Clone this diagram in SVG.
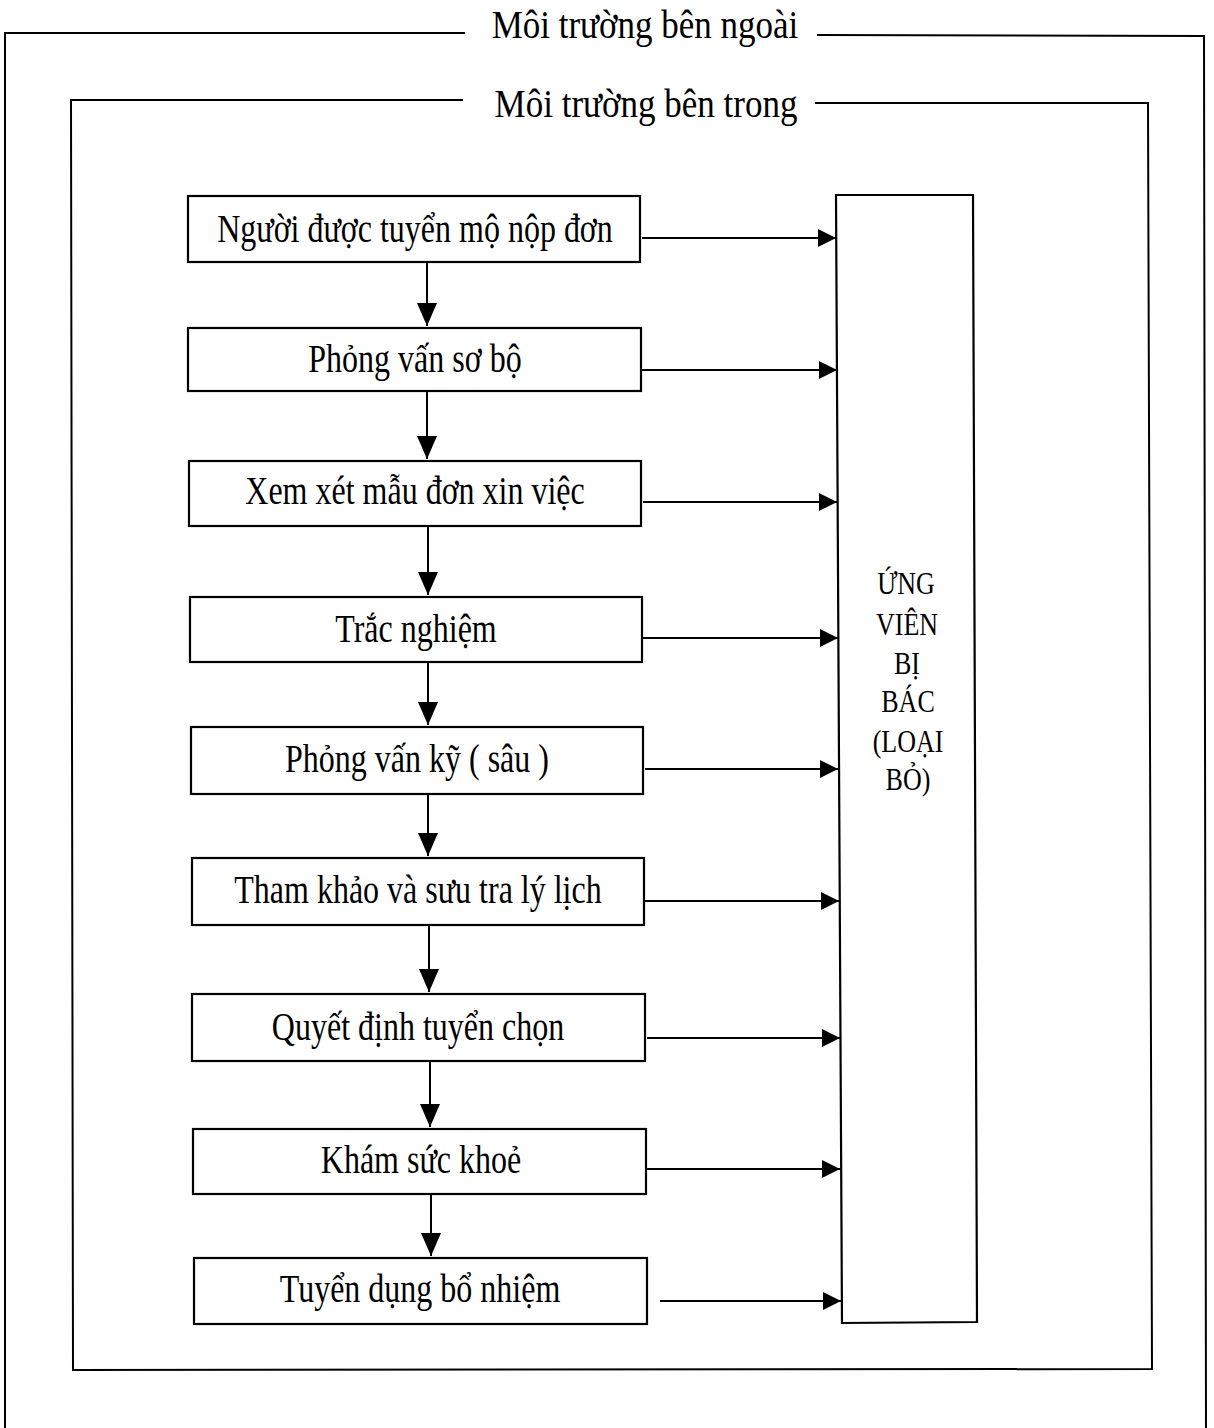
<svg xmlns="http://www.w3.org/2000/svg" width="1214" height="1428" viewBox="0 0 1214 1428">
<style>
.frame{fill:none;stroke:#000;stroke-width:2}
.box{fill:#fff;stroke:#000;stroke-width:2.2}
.lbl{font-family:"Liberation Serif","Times New Roman",serif;font-size:32px;fill:#000;text-anchor:middle}
.ttl{font-family:"Liberation Serif","Times New Roman",serif;font-size:35px;fill:#000;text-anchor:middle}
.rej{font-family:"Liberation Serif","Times New Roman",serif;font-size:26px;fill:#000;text-anchor:middle}
.con{fill:none;stroke:#000;stroke-width:2}
</style>
<defs>
<marker id="ah" viewBox="0 0 18 18" markerWidth="18" markerHeight="18" refX="18" refY="9" orient="auto" markerUnits="userSpaceOnUse">
<path d="M0,0 L18,9 L0,18 Z" fill="#000"/>
</marker>
<marker id="av" viewBox="0 0 23 20" markerWidth="23" markerHeight="20" refX="23" refY="10" orient="auto" markerUnits="userSpaceOnUse">
<path d="M0,0 L23,10 L0,20 Z" fill="#000"/>
</marker>
</defs>
<rect width="1214" height="1428" fill="#fff"/>

<g id="outer-frame">
<path class="frame" d="M465,33 L5,33 L5,1428"/>
<path class="frame" d="M817,35 L1204,36 L1206,1428"/>
<text class="ttl" transform="translate(645,38) scale(1,1.15)">Môi trường bên ngoài</text>
</g>

<g id="inner-frame">
<path class="frame" d="M463,100 L71,100 L73,1370 L1152,1369 L1148,103 L815,103"/>
<text class="ttl" transform="translate(646,117) scale(1,1.15)">Môi trường bên trong</text>
</g>

<g id="connectors">
<line class="con" x1="427" y1="262" x2="427" y2="326" marker-end="url(#av)"/>
<line class="con" x1="427" y1="391" x2="427" y2="459" marker-end="url(#av)"/>
<line class="con" x1="428" y1="526" x2="428" y2="595" marker-end="url(#av)"/>
<line class="con" x1="428" y1="662" x2="428" y2="725" marker-end="url(#av)"/>
<line class="con" x1="428" y1="794" x2="428" y2="856" marker-end="url(#av)"/>
<line class="con" x1="429" y1="925" x2="429" y2="992" marker-end="url(#av)"/>
<line class="con" x1="430" y1="1061" x2="430" y2="1127" marker-end="url(#av)"/>
<line class="con" x1="431" y1="1194" x2="431" y2="1256" marker-end="url(#av)"/>

<line class="con" x1="642" y1="238" x2="836" y2="238" marker-end="url(#ah)"/>
<line class="con" x1="642" y1="370" x2="837" y2="370" marker-end="url(#ah)"/>
<line class="con" x1="643" y1="502" x2="837" y2="502" marker-end="url(#ah)"/>
<line class="con" x1="643" y1="638" x2="838" y2="638" marker-end="url(#ah)"/>
<line class="con" x1="645" y1="769" x2="838" y2="769" marker-end="url(#ah)"/>
<line class="con" x1="645" y1="901" x2="839" y2="901" marker-end="url(#ah)"/>
<line class="con" x1="647" y1="1038" x2="840" y2="1038" marker-end="url(#ah)"/>
<line class="con" x1="647" y1="1169" x2="840" y2="1169" marker-end="url(#ah)"/>
<line class="con" x1="660" y1="1301" x2="841" y2="1301" marker-end="url(#ah)"/>
</g>

<g id="n1"><rect class="box" x="188" y="196" width="452" height="66"/><text class="lbl" transform="translate(415,242) scale(1,1.22)">Người được tuyển mộ nộp đơn</text></g>
<g id="n2"><rect class="box" x="188" y="328" width="453" height="63"/><text class="lbl" transform="translate(415,372) scale(1,1.22)">Phỏng vấn sơ bộ</text></g>
<g id="n3"><rect class="box" x="189" y="461" width="452" height="65"/><text class="lbl" transform="translate(415,504) scale(1,1.22)">Xem xét mẫu đơn xin việc</text></g>
<g id="n4"><rect class="box" x="190" y="597" width="452" height="65"/><text class="lbl" transform="translate(416,642) scale(1,1.22)">Trắc nghiệm</text></g>
<g id="n5"><rect class="box" x="191" y="727" width="452" height="67"/><text class="lbl" transform="translate(417,772) scale(1,1.22)">Phỏng vấn kỹ ( sâu )</text></g>
<g id="n6"><rect class="box" x="192" y="858" width="452" height="67"/><text class="lbl" transform="translate(418,903) scale(1,1.22)">Tham khảo và sưu tra lý lịch</text></g>
<g id="n7"><rect class="box" x="192" y="994" width="453" height="67"/><text class="lbl" transform="translate(418,1040) scale(1,1.22)">Quyết định tuyển chọn</text></g>
<g id="n8"><rect class="box" x="193" y="1129" width="453" height="65"/><text class="lbl" transform="translate(421,1173) scale(1,1.22)">Khám sức khoẻ</text></g>
<g id="n9"><rect class="box" x="194" y="1258" width="453" height="66"/><text class="lbl" transform="translate(420,1302) scale(1,1.22)">Tuyển dụng bổ nhiệm</text></g>

<g id="rejected">
<path class="box" d="M836,195 L973,195 L977,1322 L842,1323 Z"/>
<text class="rej" transform="translate(906,594) scale(1,1.2)">ỨNG</text>
<text class="rej" transform="translate(907,635) scale(1,1.2)">VIÊN</text>
<text class="rej" transform="translate(907,674) scale(1,1.2)">BỊ</text>
<text class="rej" transform="translate(908,712) scale(1,1.2)">BÁC</text>
<text class="rej" transform="translate(908,752) scale(1,1.2)">(LOẠI</text>
<text class="rej" transform="translate(908,790) scale(1,1.2)">BỎ)</text>
</g>
</svg>
